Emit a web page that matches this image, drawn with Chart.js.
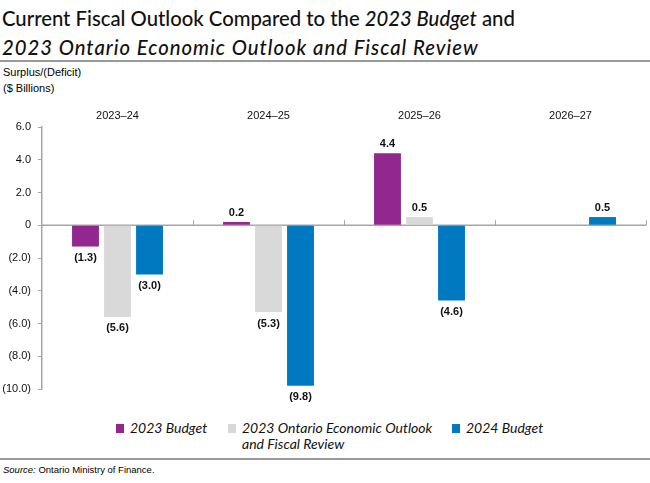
<!DOCTYPE html>
<html><head><meta charset="utf-8">
<script src="https://cdn.jsdelivr.net/npm/chart.js@4.4.1/dist/chart.umd.min.js"></script>
<style>
html,body{margin:0;padding:0;}
body{width:650px;height:483px;position:relative;background:#fff;overflow:hidden;font-family:"Liberation Sans",Arial,sans-serif;color:#000;}
#title{position:absolute;left:2px;top:4px;font-family:Lato,"Open Sans",sans-serif;font-size:20.3px;font-weight:500;line-height:29px;color:#111;white-space:nowrap;}
#title .l2{letter-spacing:1px;}
.rule{position:absolute;left:0;width:650px;height:0;border-top:2px solid #9a9a9a;}
#ytitle{position:absolute;left:3px;top:64px;font-size:11px;line-height:16px;}
#wrap{position:absolute;left:0;top:100px;width:650px;height:310px;}
#legend{position:absolute;left:116px;top:420px;display:flex;font-family:Lato,"Open Sans",sans-serif;font-style:italic;font-size:14px;line-height:16px;color:#111;}
.item{display:flex;align-items:flex-start;}
.sw{width:8px;height:9px;margin-top:4px;margin-right:6px;flex:none;}
#source{position:absolute;left:3px;top:463px;font-size:9.5px;line-height:13px;}
</style></head>
<body>
<div id="title">Current Fiscal Outlook Compared to the <i>2023 Budget</i> and<br><i class="l2">2023 Ontario Economic Outlook and Fiscal Review</i></div>
<div class="rule" style="top:60px"></div>
<div id="ytitle">Surplus/(Deficit)<br>($ Billions)</div>
<div id="wrap"><canvas id="c" width="650" height="310"></canvas></div>
<div id="legend"></div>
<div class="rule" style="top:458px"></div>
<div id="source"><i>Source:</i> Ontario Ministry of Finance.</div>
<script>
const categories = ["2023–24", "2024–25", "2025–26", "2026–27"];
const budget2023 = [-1.3, 0.2, 4.4, null];
const fallReview2023 = [-5.6, -5.3, 0.5, null];
const budget2024 = [-3.0, -9.8, -4.6, 0.5];
const seriesLabels = ["2023 Budget", "2023 Ontario Economic Outlook and Fiscal Review", "2024 Budget"];
const seriesColors = ["#92278F", "#D9D9D9", "#0079C1"];
const yTickValues = [6, 4, 2, 0, -2, -4, -6, -8, -10];

const sans = '"Liberation Sans",Arial,sans-serif';
function fmt(v){
  if (v === 0) return "0";
  return v < 0 ? "(" + Math.abs(v).toFixed(1) + ")" : v.toFixed(1);
}

const axisPlugin = {
  id: 'zeroAxis',
  beforeDatasetsDraw(chart){
    const {ctx, chartArea, scales:{x, y}} = chart;
    const y0 = y.getPixelForValue(0);
    ctx.save();
    ctx.strokeStyle = '#A6A6A6';
    ctx.lineWidth = 1.5;
    ctx.beginPath();
    ctx.moveTo(chartArea.left, y0);
    ctx.lineTo(chartArea.right, y0);
    ctx.stroke();
    ctx.lineWidth = 1;
    const n = categories.length;
    for (let i = 0; i < n; i++){
      const bx = i < n - 1 ? (x.getPixelForValue(i) + x.getPixelForValue(i + 1)) / 2 : chartArea.right - 0.5;
      ctx.beginPath();
      ctx.moveTo(Math.round(bx) + 0.5, y0 - 5);
      ctx.lineTo(Math.round(bx) + 0.5, y0);
      ctx.stroke();
    }
    ctx.restore();
  }
};

const labelPlugin = {
  id: 'barLabels',
  afterDatasetsDraw(chart){
    const {ctx} = chart;
    ctx.save();
    ctx.font = 'bold 11px ' + sans;
    ctx.fillStyle = '#111';
    ctx.textAlign = 'center';
    chart.data.datasets.forEach((ds, di) => {
      const meta = chart.getDatasetMeta(di);
      meta.data.forEach((bar, i) => {
        const v = ds.data[i];
        if (v === null || v === undefined) return;
        if (v >= 0){
          ctx.textBaseline = 'bottom';
          ctx.fillText(fmt(v), bar.x, bar.y - 4);
        } else {
          ctx.textBaseline = 'top';
          ctx.fillText(fmt(v), bar.x, bar.y + 6);
        }
      });
    });
    ctx.restore();
  }
};

const seriesData = [budget2023, fallReview2023, budget2024];
const chart = new Chart(document.getElementById('c'), {
  type: 'bar',
  data: {
    labels: categories,
    datasets: seriesData.map((d, i) => ({
      label: seriesLabels[i],
      data: d,
      backgroundColor: seriesColors[i],
      borderWidth: 0,
      categoryPercentage: 0.636,
      barPercentage: 0.84
    }))
  },
  options: {
    responsive: false,
    animation: false,
    events: [],
    layout: {padding: {left: 0, right: 4, top: 0, bottom: 21}},
    plugins: {legend: {display: false}, tooltip: {enabled: false}, title: {display: false}},
    scales: {
      x: {
        position: 'top',
        grid: {display: false, drawTicks: false},
        border: {display: false},
        ticks: {font: {family: sans, size: 11}, color: '#111', padding: 4, maxRotation: 0},
        afterFit(s){ s.height = 27; }
      },
      y: {
        min: -10, max: 6,
        afterBuildTicks(s){ s.ticks = yTickValues.map(v => ({value: v})); },
        ticks: {font: {family: sans, size: 11}, color: '#111', padding: 7, callback: v => fmt(v)},
        grid: {drawOnChartArea: false, drawTicks: true, tickLength: 4, color: '#A6A6A6'},
        border: {color: '#A6A6A6', width: 1.5},
        afterFit(s){ s.width = 42; }
      }
    }
  },
  plugins: [axisPlugin, labelPlugin]
});

const legend = document.getElementById('legend');
const itemWidths = [112, 224, 0];
seriesLabels.forEach((lab, i) => {
  const it = document.createElement('div');
  it.className = 'item';
  if (itemWidths[i]) it.style.width = itemWidths[i] + 'px';
  const sw = document.createElement('div');
  sw.className = 'sw';
  sw.style.background = seriesColors[i];
  const tx = document.createElement('div');
  tx.textContent = lab;
  if (i === 1) tx.style.width = '200px';
  it.appendChild(sw); it.appendChild(tx);
  legend.appendChild(it);
});
</script>
</body></html>
